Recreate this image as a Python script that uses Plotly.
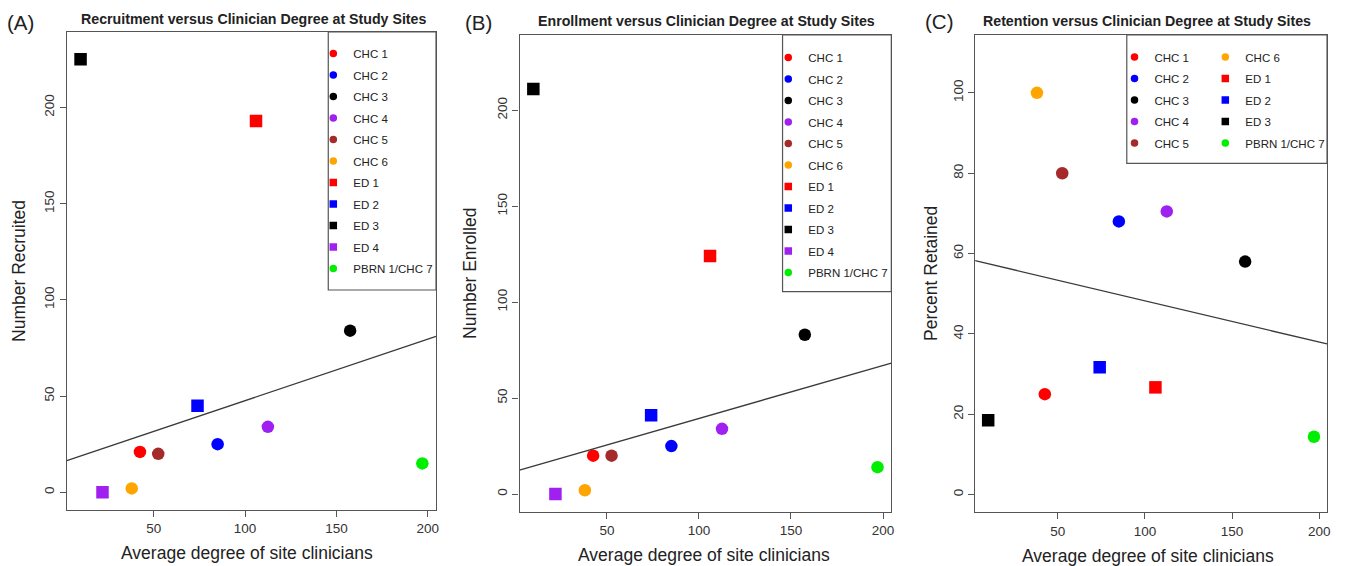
import plotly.graph_objects as go

# ---------------- data ----------------
sites = ["CHC 1", "CHC 2", "CHC 3", "CHC 4", "CHC 5", "CHC 6",
         "ED 1", "ED 2", "ED 3", "ED 4", "PBRN 1/CHC 7"]
degree = [42.5, 85, 157.5, 112.5, 52.5, 38, 106, 74, 10, 22, 197]
recruited = [21, 25, 84, 34, 20, 2, 193, 45, 225, 0, 15]
enrolled = [20, 25, 83, 34, 20, 2, 124, 41, 211, 0, 14]
retained = [25, 68, 58, 70.5, 80, 100, 26.7, 31.7, 18.5, None, 14.4]
site_colors = ["#FF0000", "#0000FF", "#000000", "#A020F0", "#A52A2A", "#FFA500",
               "#FF0000", "#0000FF", "#000000", "#A020F0", "#00EE00"]
site_symbols = ["circle"] * 6 + ["square"] * 4 + ["circle"]

# fitted trend lines (intercept, slope)
trend_recruit = (15.6, 0.320)
trend_enroll = (11.8, 0.276)
trend_retain = (58.5, -0.1027)

x_ticks = [50, 100, 150, 200]
y_ticks_ab = [0, 50, 100, 150, 200]
y_ticks_c = [0, 20, 40, 60, 80, 100]

titles = ["Recruitment versus Clinician Degree at Study Sites",
          "Enrollment versus Clinician Degree at Study Sites",
          "Retention versus Clinician Degree at Study Sites"]
panel_labels = ["(A)", "(B)", "(C)"]
y_titles = ["Number Recruited", "Number Enrolled", "Percent Retained"]
x_title = "Average degree of site clinicians"

# ---------------- layout helpers ----------------
W, H = 1345, 566
def px(x):
    return x / W
def py(y):
    return 1 - y / H

FONT = "Liberation Sans, Arial, sans-serif"
FRAME = "#555555"
TXT = "#222222"

# plot areas in pixels: (left, right, top, bottom)
areas = [(67, 437, 32, 510), (520.7, 893.3, 35, 511.7), (977.3, 1330, 35, 512.3)]
x_range = [2.5, 204.5]
y_ranges = [[-9.2, 239.2], [-9.2, 239.2], [-4.4, 114.4]]

fig = go.Figure()

panels = [recruited, enrolled, retained]
trends = [trend_recruit, trend_enroll, trend_retain]
for p in range(3):
    xa = "x" if p == 0 else f"x{p+1}"
    ya = "y" if p == 0 else f"y{p+1}"
    vals = panels[p]
    # data points
    for i, s in enumerate(sites):
        if vals[i] is None:
            continue
        fig.add_trace(go.Scatter(
            x=[degree[i]], y=[vals[i]], mode="markers", xaxis=xa, yaxis=ya,
            marker=dict(color=site_colors[i], symbol=site_symbols[i], size=12.5,
                        line=dict(width=0)),
            showlegend=False, name=s, hoverinfo="x+y+name"))
    # trend line across the whole axis range
    b0, b1 = trends[p]
    fig.add_trace(go.Scatter(
        x=x_range, y=[b0 + b1 * x_range[0], b0 + b1 * x_range[1]], mode="lines",
        xaxis=xa, yaxis=ya, line=dict(color="#3a3a3a", width=1.3),
        showlegend=False, hoverinfo="skip"))

# legend-only entries
def legend_entry(i, legend_name, group):
    fig.add_trace(go.Scatter(
        x=[None], y=[None], mode="markers", name=sites[i],
        marker=dict(color=site_colors[i], symbol=site_symbols[i], size=7.5),
        legend=legend_name, legendgroup=group + sites[i], showlegend=True))

for i in range(len(sites)):
    legend_entry(i, "legend", "A_")
for i in range(len(sites)):
    legend_entry(i, "legend2", "B_")
for i in [0, 1, 2, 3, 4]:
    legend_entry(i, "legend3", "C1_")
for i in [5, 6, 7, 8, 10]:
    legend_entry(i, "legend4", "C2_")

axis_common = dict(showline=True, mirror=True, linecolor=FRAME, linewidth=1.3,
                   ticks="outside", ticklen=6, tickcolor=FRAME, tickwidth=1.2,
                   showgrid=False, zeroline=False,
                   tickfont=dict(family=FONT, size=13.5, color="#333333"))

layout = dict(width=W, height=H, margin=dict(l=0, r=0, t=0, b=0),
              plot_bgcolor="white", paper_bgcolor="white",
              font=dict(family=FONT, color=TXT), showlegend=True)

for p in range(3):
    l, r, t, b = areas[p]
    sx = "" if p == 0 else str(p + 1)
    layout[f"xaxis{sx}"] = dict(domain=[px(l), px(r)], range=x_range,
                                tickvals=x_ticks, anchor=f"y{sx}", **axis_common)
    layout[f"yaxis{sx}"] = dict(domain=[py(b), py(t)], range=y_ranges[p],
                                tickvals=(y_ticks_c if p == 2 else y_ticks_ab),
                                tickangle=-90, anchor=f"x{sx}", **axis_common)

leg_common = dict(bgcolor="rgba(0,0,0,0)", borderwidth=0, xanchor="left", yanchor="top",
                  font=dict(family=FONT, size=11.5, color=TXT), tracegroupgap=2.5,
                  itemclick=False, itemdoubleclick=False)
layout["legend"] = dict(x=px(314), y=py(39), **leg_common)
layout["legend2"] = dict(x=px(770), y=py(43), **leg_common)
layout["legend3"] = dict(x=px(1117), y=py(42.5), **leg_common)
layout["legend4"] = dict(x=px(1208), y=py(42.5), **leg_common)

# legend frames
boxes = [(329, 437, 32, 290), (784.3, 893.3, 35, 291.7), (1129.3, 1330, 35, 163.3)]
shapes = []
for (x0, x1, y0, y1) in boxes:
    shapes.append(dict(type="rect", xref="paper", yref="paper",
                       x0=px(x0), x1=px(x1), y0=py(y1), y1=py(y0),
                       line=dict(color=FRAME, width=1.2), fillcolor="rgba(0,0,0,0)"))
layout["shapes"] = shapes

ann = []
title_pos = [(254, 19), (708, 21), (1150, 21)]
label_pos = [(21, 22), (480, 22), (941, 21)]
xt_pos = [(248, 553), (706, 555), (1151, 556)]
yt_pos = [(19, 271), (471, 273), (933, 273)]
for p in range(3):
    ann.append(dict(text=f"<b>{titles[p]}</b>", x=px(title_pos[p][0]), y=py(title_pos[p][1]),
                    xref="paper", yref="paper", showarrow=False, xanchor="center", yanchor="middle",
                    font=dict(family=FONT, size=14.2, color=TXT)))
    ann.append(dict(text=panel_labels[p], x=px(label_pos[p][0]), y=py(label_pos[p][1]),
                    xref="paper", yref="paper", showarrow=False, xanchor="center", yanchor="middle",
                    font=dict(family=FONT, size=20.5, color=TXT)))
    ann.append(dict(text=x_title, x=px(xt_pos[p][0]), y=py(xt_pos[p][1]),
                    xref="paper", yref="paper", showarrow=False, xanchor="center", yanchor="middle",
                    font=dict(family=FONT, size=17.5, color=TXT)))
    ann.append(dict(text=y_titles[p], x=px(yt_pos[p][0]), y=py(yt_pos[p][1]), textangle=-90,
                    xref="paper", yref="paper", showarrow=False, xanchor="center", yanchor="middle",
                    font=dict(family=FONT, size=17.5, color=TXT)))
layout["annotations"] = ann

fig.update_layout(**layout)
fig.write_html("out.html", config={"displayModeBar": False},
               post_script="document.body.style.margin='0';document.body.style.overflow='hidden';")
